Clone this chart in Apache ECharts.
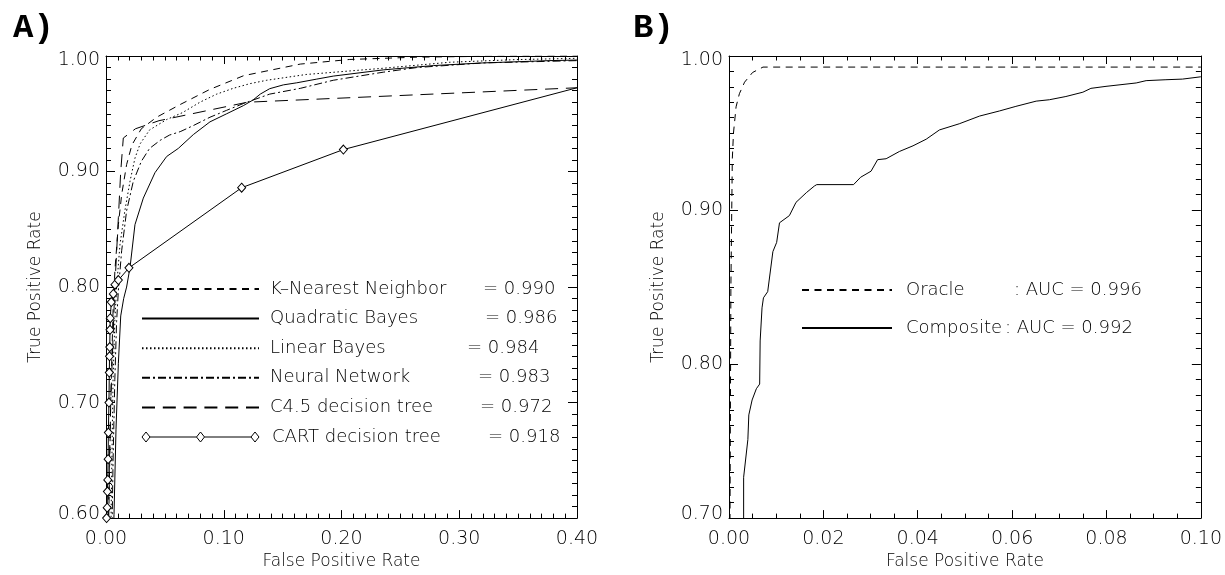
<!DOCTYPE html>
<html><head><meta charset="utf-8">
<script src="https://cdn.jsdelivr.net/npm/echarts@6/dist/echarts.min.js"></script>
<style>html,body{margin:0;padding:0;background:#fff}#c{width:1225px;height:575px}</style>
</head><body><div id="c"></div>
<script>
// ---------- Panel A data (False Positive Rate, True Positive Rate) ----------
const knn = [[0.002,0.58],[0.004,0.70],[0.006,0.78],[0.0076,0.815],[0.0105,0.854],[0.0133,0.880],[0.0175,0.906],[0.022,0.923],[0.030,0.937],[0.043,0.947],[0.063,0.958],[0.088,0.971],[0.117,0.983],[0.165,0.993],[0.207,0.997],[0.264,0.999],[0.32,0.9997],[0.4,1.0]];
const quadratic = [[0.0060,0.58],[0.0068,0.603],[0.0085,0.677],[0.0105,0.734],[0.0125,0.775],[0.015,0.79],[0.0175,0.80],[0.0204,0.817],[0.0246,0.854],[0.0317,0.877],[0.0416,0.899],[0.0515,0.913],[0.0614,0.920],[0.0742,0.932],[0.0883,0.943],[0.1025,0.950],[0.1166,0.957],[0.125,0.962],[0.131,0.967],[0.139,0.9717],[0.1506,0.975],[0.162,0.9768],[0.179,0.980],[0.193,0.9826],[0.2355,0.988],[0.278,0.9917],[0.320,0.994],[0.377,0.996],[0.4,0.9965]];
const linear = [[0.004,0.58],[0.005,0.65],[0.006,0.72],[0.0075,0.77],[0.009,0.80],[0.0119,0.837],[0.016,0.866],[0.0204,0.8916],[0.0246,0.9116],[0.029,0.924],[0.037,0.936],[0.0515,0.945],[0.065,0.951],[0.0798,0.960],[0.094,0.967],[0.108,0.972],[0.122,0.976],[0.1365,0.979],[0.17,0.984],[0.2355,0.9894],[0.292,0.9946],[0.349,0.9969],[0.4,0.998]];
const neural = [[0.005,0.58],[0.006,0.65],[0.0075,0.72],[0.009,0.77],[0.0105,0.797],[0.0133,0.8315],[0.0175,0.866],[0.0232,0.8916],[0.030,0.9088],[0.037,0.920],[0.046,0.927],[0.054,0.9316],[0.063,0.9345],[0.074,0.9397],[0.0883,0.947],[0.1025,0.953],[0.117,0.959],[0.139,0.967],[0.165,0.972],[0.193,0.979],[0.2355,0.986],[0.264,0.990],[0.32,0.994],[0.4,0.996]];
const c45 = [[0.0015,0.58],[0.004,0.70],[0.0075,0.80],[0.0105,0.86],[0.0125,0.90],[0.0147,0.929],[0.025,0.937],[0.045,0.944],[0.12,0.96],[0.4,0.9725]];
const cart = [[0.0005,0.60],[0.001,0.609],[0.0012,0.623],[0.0015,0.633],[0.0018,0.651],[0.002,0.674],[0.0025,0.70],[0.0028,0.726],[0.003,0.740],[0.0032,0.748],[0.0034,0.763],[0.0036,0.773],[0.0045,0.787],[0.0062,0.794],[0.0076,0.802],[0.0105,0.806],[0.0195,0.8166],[0.1152,0.886],[0.2016,0.919],[0.4,0.9725]];

const namesA = ['K–Nearest Neighbor','Quadratic Bayes','Linear Bayes','Neural Network','C4.5 decision tree','CART decision tree'];
const aucA = ['0.990','0.986','0.984','0.983','0.972','0.918'];

// ---------- Panel B data ----------
const oracle = [[0.0002,0.69],[0.0004,0.85],[0.0007,0.933],[0.00095,0.950],[0.0015,0.967],[0.0022,0.9755],[0.0033,0.983],[0.005,0.9893],[0.0072,0.9928],[0.1,0.9928]];
const composite = [[0.0031,0.69],[0.0031,0.7265],[0.004,0.751],[0.0042,0.767],[0.0049,0.7767],[0.0058,0.784],[0.0065,0.787],[0.0066,0.815],[0.0070,0.8365],[0.0073,0.843],[0.0082,0.847],[0.0093,0.873],[0.0101,0.879],[0.0107,0.8917],[0.0128,0.8964],[0.0142,0.905],[0.0164,0.9113],[0.0181,0.9156],[0.0186,0.9165],[0.0264,0.9165],[0.0279,0.9213],[0.0301,0.9252],[0.0315,0.9327],[0.0333,0.9333],[0.0361,0.938],[0.0390,0.9417],[0.0418,0.946],[0.0446,0.952],[0.0488,0.956],[0.0531,0.961],[0.0573,0.9643],[0.0608,0.9673],[0.0651,0.9707],[0.0679,0.9716],[0.0714,0.9737],[0.075,0.9765],[0.0767,0.979],[0.0799,0.9803],[0.0863,0.9825],[0.0884,0.984],[0.0926,0.9846],[0.0961,0.985],[0.1,0.9865]];
const namesB = ['Oracle','Composite'];
const aucB = ['0.996','0.992'];

const FONT = 'DejaVu Sans';
const INK = '#000';
const TICKFS = 19, LEGFS = 18, NAMEFS = 17, FW = 200;

function axisCommon(extra){
  return Object.assign({
    type:'value',
    axisLine:{show:true,onZero:false,lineStyle:{color:INK,width:1}},
    splitLine:{show:false},
    minorSplitLine:{show:false}
  }, extra);
}
function xAxes(grid, min, max, interval, minorSplit){
  return [
    axisCommon({gridIndex:grid,position:'bottom',min,max,interval,
      axisTick:{show:true,inside:true,length:8,lineStyle:{color:INK}},
      minorTick:{show:true,splitNumber:minorSplit,length:4.5,lineStyle:{color:INK}},
      axisLabel:{show:true,margin:11,color:INK,fontFamily:FONT,fontWeight:FW,fontSize:TICKFS,formatter:v=>v.toFixed(2)},
      name:'False Positive Rate',nameLocation:'middle',nameGap:33,
      nameTextStyle:{fontFamily:FONT,fontWeight:FW,fontSize:NAMEFS,color:INK}}),
    axisCommon({gridIndex:grid,position:'top',min,max,interval,
      axisTick:{show:true,inside:true,length:8,lineStyle:{color:INK}},
      minorTick:{show:true,splitNumber:minorSplit,length:4.5,lineStyle:{color:INK}},
      axisLabel:{show:false}})
  ];
}
function yAxes(grid, min, max){
  return [
    axisCommon({gridIndex:grid,position:'left',min,max,interval:0.1,
      axisTick:{show:true,inside:true,length:9,lineStyle:{color:INK}},
      minorTick:{show:true,splitNumber:10,length:5,lineStyle:{color:INK}},
      axisLabel:{show:true,margin:6,color:INK,fontFamily:FONT,fontWeight:FW,fontSize:TICKFS,lineHeight:8,
        verticalAlignMinLabel:'bottom',verticalAlignMaxLabel:'top',formatter:v=>v.toFixed(2)},
      name:'True Positive Rate',nameLocation:'middle',nameGap:62,
      nameTextStyle:{fontFamily:FONT,fontWeight:FW,fontSize:NAMEFS,color:INK}}),
    axisCommon({gridIndex:grid,position:'right',min,max,interval:0.1,
      axisTick:{show:true,inside:true,length:9,lineStyle:{color:INK}},
      minorTick:{show:true,splitNumber:10,length:5,lineStyle:{color:INK}},
      axisLabel:{show:false}})
  ];
}

function lineSeries(name, data, dash, xi, yi, extra){
  return Object.assign({
    type:'line', name, data, xAxisIndex:xi, yAxisIndex:yi,
    showSymbol:false, symbol:'none', animation:false, silent:true,
    lineStyle:{color:'#000',width:1,type:dash},
    itemStyle:{color:'#000'}
  }, extra||{});
}

const dashA = [[7,5.5],'solid',[1.5,2.5],[8,3,2,3],[13,7.8],'solid'];
const dataA = [knn, quadratic, linear, neural, c45, cart];

const seriesA = dataA.map((d,i)=>{
  if(i===5){
    return lineSeries(namesA[i], d.map((p,k)=> k===d.length-1 ? {value:p,symbol:'none'} : p), 'solid', 0, 0, {
      showSymbol:true, symbol:'diamond', symbolSize:[8,9],
      itemStyle:{color:'#fff',borderColor:'#000',borderWidth:1}
    });
  }
  return lineSeries(namesA[i], d, dashA[i], 0, 0);
});
const seriesB = [
  lineSeries(namesB[0], oracle, [7,5.5], 2, 2),
  lineSeries(namesB[1], composite, 'solid', 2, 2)
];

const cartIcon = 'path://M0,5 L4,0 L8,5 L4,10 Z M8,5 L54.5,5 M54.5,5 L58.5,0 L62.5,5 L58.5,10 Z M62.5,5 L109,5 M109,5 L113,0 L117,5 L113,10 Z';

// x position where the "= value" column starts, per row (panel A), and ": AUC" (panel B)
const eqPosA = [482, 484, 466, 477, 479, 485];
const colPosB = [1013, 1004];

const richA = {v:{fontFamily:FONT,fontWeight:FW,fontSize:LEGFS,color:INK,lineHeight:20}};
namesA.forEach((n,i)=>{ richA['n'+i] = {fontFamily:FONT,fontWeight:FW,fontSize:LEGFS,color:INK,lineHeight:20,
  width:eqPosA[i]-269, padding:[0,0,0,i===5?8:6]}; });
const richB = {v:{fontFamily:FONT,fontWeight:FW,fontSize:LEGFS,color:INK,lineHeight:20}};
namesB.forEach((n,i)=>{ richB['n'+i] = {fontFamily:FONT,fontWeight:FW,fontSize:LEGFS,color:INK,lineHeight:20,
  width:colPosB[i]-905, padding:[0,0,0,9]}; });

const option = {
  backgroundColor:'#fff',
  animation:false,
  title:[
    {text:'A)',left:8,top:6,textStyle:{fontFamily:'Liberation Mono',fontWeight:'bold',fontSize:34,color:'#000'}},
    {text:'B)',left:628,top:6,textStyle:{fontFamily:'Liberation Mono',fontWeight:'bold',fontSize:34,color:'#000'}}
  ],
  grid:[
    {left:106,top:56,width:471,height:467},
    {left:729,top:56,width:472,height:467}
  ],
  xAxis:[...xAxes(0,0,0.4,0.1,10), ...xAxes(1,0,0.1,0.02,4)],
  yAxis:[...yAxes(0,0.6,1.0), ...yAxes(1,0.7,1.0)],
  legend:[
    {
      orient:'vertical', left:141, top:279, padding:0, itemWidth:117, itemHeight:14, itemGap:9.6,
      selectedMode:false, align:'left', itemStyle:{opacity:0},
      data: namesA.map((n,i)=> i===5 ? {name:n, icon:cartIcon, itemStyle:{opacity:1,color:'#fff',borderColor:'#000',borderWidth:1}} : {name:n}),
      formatter: name => { const i = namesA.indexOf(name); return '{n'+i+'|'+name+'}{v|= '+aucA[i]+'}'; },
      textStyle:{fontFamily:FONT,fontSize:LEGFS,color:INK,lineHeight:20,rich:richA}
    },
    {
      orient:'vertical', left:801, top:280, padding:0, itemWidth:90, itemHeight:14, itemGap:18,
      selectedMode:false, align:'left', itemStyle:{opacity:0},
      data: namesB.map(n=>({name:n})),
      formatter: name => { const i = namesB.indexOf(name); return '{n'+i+'|'+name+'}{v|: AUC = '+aucB[i]+'}'; },
      textStyle:{fontFamily:FONT,fontSize:LEGFS,color:INK,lineHeight:20,rich:richB}
    }
  ],
  series:[...seriesA, ...seriesB]
};
const chart = echarts.init(document.getElementById('c'), null, {renderer:'canvas'});
chart.setOption(option);
</script></body></html>
